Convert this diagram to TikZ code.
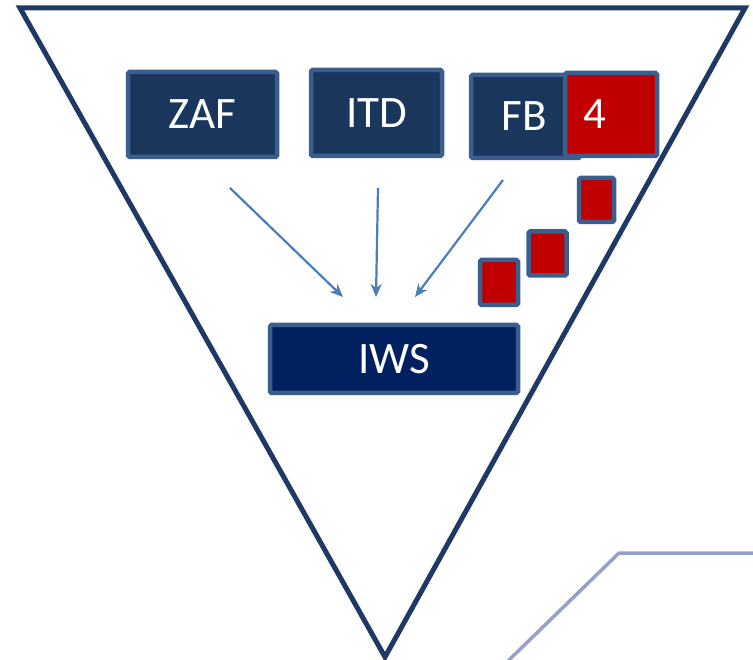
\documentclass[tikz,border=0pt]{standalone}
\usepackage{fontspec}
\setmainfont{Carlito}
\usetikzlibrary{arrows.meta}

\definecolor{navy}{HTML}{1B365D}
\definecolor{deepnavy}{HTML}{002060}
\definecolor{rim}{HTML}{3A5F8F}
\definecolor{alarm}{HTML}{C00000}
\definecolor{arrowblue}{HTML}{4A7EBB}
\definecolor{edge}{HTML}{1F3864}
\definecolor{haze}{HTML}{96A0C8}

\tikzset{
  unitbox/.style={draw=rim, line width=4.5pt, rounded corners=1.5pt, text=white,
    inner sep=0pt, font=\fontsize{45}{45}\selectfont},
  navybox/.style={unitbox, fill=navy},
  redbox/.style={unitbox, fill=alarm},
  flow/.style={->, draw=arrowblue, line width=2.2pt}
}

\begin{document}
\begin{tikzpicture}[x=1pt, y=-1pt, >={Stealth[length=13pt, width=11pt, inset=4pt]}]
\useasboundingbox (0,0) rectangle (753,660);
% funnel
\coordinate (tl) at (20,8);
\coordinate (tr) at (745,8);
\coordinate (tip) at (385,657);
\draw[edge, line width=5pt, line join=miter] (tl) -- (tr) -- (tip) -- cycle;
% faint line bottom right
\coordinate (h0) at (507,662);
\coordinate (h1) at (619,553);
\coordinate (h2) at (755,553);
\draw[haze, line width=3.5pt] (h0) -- (h1) -- (h2);

% units
\node (zaf) at (202.5,114.5) [navybox, minimum width=149pt, minimum height=85pt] {ZAF};
\node (itd) at (376.5,113) [navybox, minimum width=131pt, minimum height=86pt] {ITD};
\node (fb) at (525.5,116.5) [navybox, minimum width=109pt, minimum height=83pt, text width=100pt, align=left] {\hspace*{26pt}FB};
\node (four) at (611,114.5) [redbox, minimum width=92pt, minimum height=83pt, text width=84pt, align=left] {\hspace*{14pt}4};
\node (iws) at (394,359) [unitbox, fill=deepnavy, minimum width=248pt, minimum height=68pt] {IWS};

% small red blocks
\node (r1) at (596.5,200) [redbox, minimum width=35pt, minimum height=44pt] {};
\node (r2) at (547.5,253.5) [redbox, minimum width=38pt, minimum height=44pt] {};
\node (r3) at (499,282.5) [redbox, minimum width=38pt, minimum height=45pt] {};

% arrows
\coordinate (a1) at (230,188);
\coordinate (b1) at (343,297);
\coordinate (a2) at (378,188);
\coordinate (b2) at (376,297);
\coordinate (a3) at (503,180);
\coordinate (b3) at (415,297);
\draw[flow] (a1) -- (b1);
\draw[flow] (a2) -- (b2);
\draw[flow] (a3) -- (b3);
\end{tikzpicture}
\end{document}
